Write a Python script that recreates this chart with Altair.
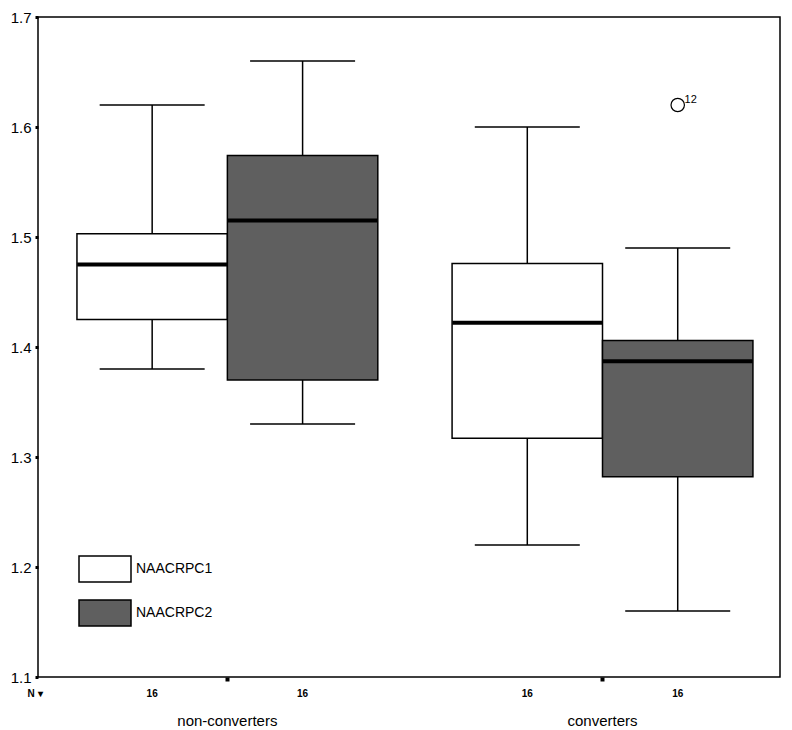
import altair as alt
import pandas as pd

groups = ["non-converters", "non-converters", "converters", "converters"]
variables = ["NAACRPC1", "NAACRPC2", "NAACRPC1", "NAACRPC2"]
lower = [1.38, 1.33, 1.22, 1.16]
q1 = [1.425, 1.37, 1.317, 1.282]
median = [1.475, 1.515, 1.422, 1.387]
q3 = [1.503, 1.574, 1.476, 1.406]
upper = [1.62, 1.66, 1.60, 1.49]
n_counts = ["16", "16", "16", "16"]

out_group = ["converters"]
out_variable = ["NAACRPC2"]
out_value = [1.62]
out_label = ["12"]

y_ticks = [1.1, 1.2, 1.3, 1.4, 1.5, 1.6, 1.7]
group_order = ["non-converters", "converters"]
var_order = ["NAACRPC1", "NAACRPC2"]
fills = ["#ffffff", "#5f5f5f"]

df = pd.DataFrame({"group": groups, "variable": variables, "lower": lower, "q1": q1,
                   "median": median, "q3": q3, "upper": upper, "n": n_counts})
odf = pd.DataFrame({"group": out_group, "variable": out_variable, "value": out_value,
                    "label": out_label})

W, H = 742, 660

xenc = alt.X("group:N", scale=alt.Scale(domain=group_order, paddingInner=0.198,
                                        paddingOuter=0.088, align=0.59),
             axis=alt.Axis(title=None, domain=False, tickSize=4, tickWidth=4, tickColor="black",
                           labelFontSize=15, labelColor="black", labelPadding=32,
                           labelAngle=0))
xoff = alt.XOffset("variable:N", scale=alt.Scale(domain=var_order, paddingInner=0, paddingOuter=0))
yscale = alt.Scale(domain=[1.1, 1.7], nice=False, zero=False)
yaxis = alt.Axis(title=None, values=y_ticks, format=".1f", grid=False, domain=False,
                 tickSize=3, tickWidth=3, tickColor="black", labelFontSize=15,
                 labelColor="black", labelPadding=4)

base = alt.Chart(df)

box = base.mark_bar(stroke="black", strokeWidth=1.5, opacity=1).encode(
    x=xenc, xOffset=xoff,
    y=alt.Y("q1:Q", scale=yscale, axis=yaxis), y2="q3:Q",
    color=alt.Color("variable:N", scale=alt.Scale(domain=var_order, range=fills),
                    legend=alt.Legend(orient="none", legendX=40, legendY=525, title=None,
                                      symbolType="M-1,-0.5H1V0.5H-1Z", symbolSize=2704,
                                      symbolStrokeColor="black", symbolStrokeWidth=1.5,
                                      symbolOpacity=1, labelFontSize=14, labelColor="black",
                                      rowPadding=1, labelOffset=4, padding=0))
)

rule_lo = base.mark_rule(color="black", strokeWidth=1.5).encode(
    x=xenc, xOffset=xoff, y=alt.Y("lower:Q", scale=yscale), y2="q1:Q")
rule_hi = base.mark_rule(color="black", strokeWidth=1.5).encode(
    x=xenc, xOffset=xoff, y=alt.Y("q3:Q", scale=yscale), y2="upper:Q")
cap_lo = base.mark_tick(color="black", thickness=1.5, size=105, opacity=1).encode(
    x=xenc, xOffset=xoff, y=alt.Y("lower:Q", scale=yscale))
cap_hi = base.mark_tick(color="black", thickness=1.5, size=105, opacity=1).encode(
    x=xenc, xOffset=xoff, y=alt.Y("upper:Q", scale=yscale))
med = base.mark_tick(color="black", thickness=4, size=150, opacity=1).encode(
    x=xenc, xOffset=xoff, y=alt.Y("median:Q", scale=yscale))

ncount = base.mark_text(fontSize=10, fontWeight="bold", color="black").encode(
    x=xenc, xOffset=xoff, y=alt.value(H + 17), text="n:N")

nlabel = alt.Chart(pd.DataFrame({"t": ["N \u25be"]})).mark_text(
    fontSize=10, fontWeight="bold", color="black").encode(
    x=alt.value(-3), y=alt.value(H + 17), text="t:N")

opoint = alt.Chart(odf).mark_point(shape="circle", size=180, filled=False, color="black",
                                   strokeWidth=1.2, opacity=1).encode(
    x=xenc, xOffset=xoff, y=alt.Y("value:Q", scale=yscale))
otext = alt.Chart(odf).mark_text(fontSize=11, color="black", dx=13, dy=-5).encode(
    x=xenc, xOffset=xoff, y=alt.Y("value:Q", scale=yscale), text="label:N")

chart = alt.layer(box, rule_lo, rule_hi, cap_lo, cap_hi, med, ncount, nlabel, opoint, otext).properties(
    width=W, height=H, autosize=alt.AutoSizeParams(type="none"),
    padding={"left": 30, "top": 9, "right": 4, "bottom": 53}
).configure(font="Liberation Sans").configure_view(stroke="black", strokeWidth=1.5)

chart.save("out.html", embed_options={"renderer": "svg", "actions": False})
